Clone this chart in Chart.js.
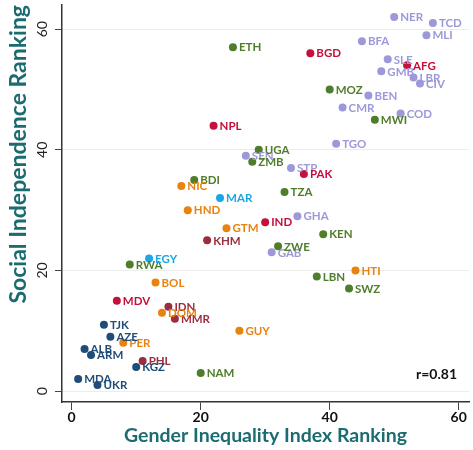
<!DOCTYPE html>
<html>
<head>
<meta charset="utf-8">
<script src="https://cdn.jsdelivr.net/npm/chart.js@4.4.1/dist/chart.umd.min.js"></script>
<style>
  html, body { margin: 0; padding: 0; background: #fff; }
  #wrap { width: 473px; height: 450px; }
</style>
</head>
<body>
<div id="wrap"><canvas id="giiChart"></canvas></div>
<script>
// country codes, Gender Inequality Index rank (x), Social Independence rank (y), region
const countryCodes = [
  'NER', 'TCD', 'MLI', 'BFA', 'SLE', 'GMB', 'LBR', 'CIV', 'BEN', 'CMR', 'COD', 'TGO', 'STP', 'GHA', 'GAB', 'SEN',
  'ETH', 'MOZ', 'MWI', 'UGA', 'ZMB', 'BDI', 'TZA', 'KEN', 'ZWE', 'RWA', 'LBN', 'SWZ', 'NAM',
  'NPL', 'BGD', 'AFG', 'PAK', 'IND', 'MDV',
  'KHM', 'IDN', 'MMR', 'PHL',
  'NIC', 'HND', 'GTM', 'BOL', 'DOM', 'PER', 'GUY', 'HTI',
  'MAR', 'EGY',
  'TJK', 'AZE', 'ALB', 'ARM', 'KGZ', 'MDA', 'UKR'
];
const giiRank = [
  50, 56, 55, 45, 49, 48, 53, 54, 46, 42, 51, 41, 34, 35, 31, 27,
  25, 40, 47, 29, 28, 19, 33, 39, 32, 9, 38, 43, 20,
  22, 37, 52, 36, 30, 7,
  21, 15, 16, 11,
  17, 18, 24, 13, 14, 8, 26, 44,
  23, 12,
  5, 6, 2, 3, 10, 1, 4
];
const socialRank = [
  62, 61, 59, 58, 55, 53, 52, 51, 49, 47, 46, 41, 37, 29, 23, 39,
  57, 50, 45, 40, 38, 35, 33, 26, 24, 21, 19, 17, 3,
  44, 56, 54, 36, 28, 15,
  25, 14, 12, 5,
  34, 30, 27, 18, 13, 8, 10, 20,
  32, 22,
  11, 9, 7, 6, 4, 2, 1
];
const regionOf = [
  'wca', 'wca', 'wca', 'wca', 'wca', 'wca', 'wca', 'wca', 'wca', 'wca', 'wca', 'wca', 'wca', 'wca', 'wca', 'wca',
  'esa', 'esa', 'esa', 'esa', 'esa', 'esa', 'esa', 'esa', 'esa', 'esa', 'esa', 'esa', 'esa',
  'sas', 'sas', 'sas', 'sas', 'sas', 'sas',
  'sea', 'sea', 'sea', 'sea',
  'lac', 'lac', 'lac', 'lac', 'lac', 'lac', 'lac', 'lac',
  'mena', 'mena',
  'eca', 'eca', 'eca', 'eca', 'eca', 'eca', 'eca'
];
const regionNames = ['wca', 'esa', 'sas', 'sea', 'lac', 'mena', 'eca'];
const xTicks = [0, 20, 40, 60];
const yTicks = [0, 20, 40, 60];
const correlation = 'r=0.81';

const regionColors = {
  wca: '#9c98da',
  esa: '#4f7d2b',
  sas: '#c50f3c',
  sea: '#9a2d3e',
  lac: '#e8830f',
  mena: '#1ba6e8',
  eca: '#1f4c78'
};
const titleColor = '#1b6c70';
const fontFamily = 'Lato, "Open Sans", sans-serif';

const datasets = regionNames.map(region => {
  const points = [];
  countryCodes.forEach((code, i) => {
    if (regionOf[i] === region) {
      points.push({ x: giiRank[i], y: socialRank[i], code: code });
    }
  });
  return {
    label: region,
    data: points,
    backgroundColor: regionColors[region],
    borderWidth: 0,
    pointRadius: 4,
    pointHoverRadius: 4
  };
});

// country code next to every dot, plus the r value
const pointLabels = {
  id: 'pointLabels',
  afterDatasetsDraw(chart) {
    const ctx = chart.ctx;
    ctx.save();
    ctx.font = 'bold 11.5px ' + fontFamily;
    ctx.textAlign = 'left';
    ctx.textBaseline = 'middle';
    chart.data.datasets.forEach((ds, di) => {
      const meta = chart.getDatasetMeta(di);
      ctx.fillStyle = ds.backgroundColor;
      meta.data.forEach((pt, j) => {
        ctx.fillText(ds.data[j].code, pt.x + 6, pt.y + 0.5);
      });
    });
    const area = chart.chartArea;
    ctx.fillStyle = '#111';
    ctx.font = 'bold 14px ' + fontFamily;
    ctx.textAlign = 'right';
    ctx.fillText(correlation, area.right - 12, area.bottom - 28);
    ctx.restore();
  }
};

const giiChart = new Chart(
  document.getElementById('giiChart'),
  {
    type: 'scatter',
    data: { datasets: datasets },
    options: {
      responsive: true,
      maintainAspectRatio: false,
      animation: false,
      events: [],
      layout: {
        padding: { top: 5, right: 0, bottom: 0, left: 0 }
      },
      plugins: {
        legend: { display: false },
        tooltip: { enabled: false }
      },
      scales: {
        x: {
          type: 'linear',
          min: -1.5,
          max: 61.6,
          afterBuildTicks: scale => {
            scale.ticks = xTicks.map(v => ({ value: v }));
          },
          afterFit: scale => {
            scale.height = 48;
          },
          ticks: {
            color: '#111',
            padding: -1,
            font: { family: fontFamily, size: 14, weight: 'bold' }
          },
          grid: {
            drawOnChartArea: false,
            tickColor: '#444',
            tickLength: 8
          },
          border: { color: '#333', width: 1.5 },
          title: {
            display: true,
            text: 'Gender Inequality Index Ranking',
            color: titleColor,
            padding: { top: 0, bottom: 3 },
            font: { family: fontFamily, size: 19.5, weight: 'bold' }
          }
        },
        y: {
          type: 'linear',
          min: -1.8,
          max: 64,
          afterBuildTicks: scale => {
            scale.ticks = yTicks.map(v => ({ value: v }));
          },
          afterFit: scale => {
            scale.width = 62;
            scale.paddingTop = 0;
            scale.paddingBottom = 0;
          },
          ticks: {
            color: '#222',
            minRotation: 90,
            maxRotation: 90,
            crossAlign: 'center',
            padding: 4,
            font: { family: fontFamily, size: 14 }
          },
          grid: {
            color: '#ececec',
            tickColor: '#444',
            tickLength: 7
          },
          border: { color: '#333', width: 1.5 },
          title: {
            display: true,
            text: 'Social Independence Ranking',
            color: titleColor,
            align: 'end',
            padding: { top: 5, bottom: 0 },
            font: { family: fontFamily, size: 23, weight: 'bold' }
          }
        }
      }
    },
    plugins: [pointLabels]
  }
);
</script>
</body>
</html>
